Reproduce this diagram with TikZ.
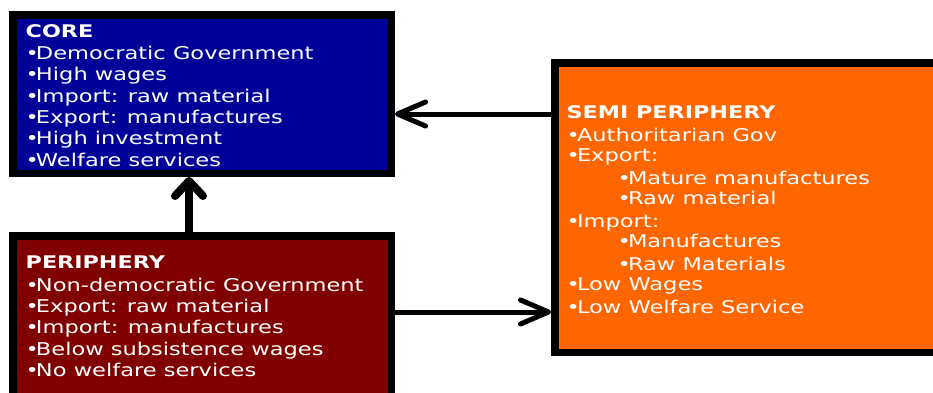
\documentclass[tikz,border=0pt]{standalone}
\usepackage{fontspec}
\setmainfont{DejaVu Sans}[FakeStretch=1.28]
\usetikzlibrary{arrows.meta}
\definecolor{coreblue}{RGB}{0,0,153}
\definecolor{perired}{RGB}{128,0,0}
\definecolor{semiorange}{RGB}{255,102,0}
\newcommand{\bul}{•\kern-3pt}
\tikzset{
  box/.style={draw=black, line width=7.5pt, inner sep=0pt},
  txt/.style={anchor=base west, inner sep=0pt, text=white,
    font=\fontsize{17.6}{21}\selectfont},
  ttl/.style={txt, font=\fontsize{17.4}{21}\selectfont\bfseries},
  harrow/.style={line width=5pt, -{Straight Barb[length=28pt,width=24pt,round]}},
  varrow/.style={line width=8pt, -{Straight Barb[length=15pt,width=28pt,round]}}
}
\begin{document}
\begin{tikzpicture}[x=1pt,y=-1pt]
\useasboundingbox (0,0) rectangle (933,392);
% boxes
\node[box, fill=coreblue, minimum width=378.5pt, minimum height=158.5pt] (core) at (202,94) {};
\node[box, fill=perired, minimum width=378.5pt, minimum height=164.25pt] (peri) at (202,317.9) {};
\node[box, fill=semiorange, minimum width=390.25pt, minimum height=289.5pt] (semi) at (749.9,207.5) {};
% CORE text
\node[ttl] (coret) at (25.5,37) {CORE};
\foreach \y/\t [count=\i] in {59/Democratic Government, 80/High wages, 102/Import: raw material, 123/Export: manufactures, 144/High investment, 166/Welfare services}
  \node[txt] (core\i) at (25.5,\y) {\bul\t};
% PERIPHERY text
\node[ttl] (perit) at (25.5,268) {PERIPHERY};
\foreach \y/\t [count=\i] in {291/Non-democratic Government, 312/Export: raw material, 333/Import: manufactures, 355/Below subsistence wages, 376/No welfare services}
  \node[txt] (peri\i) at (25.5,\y) {\bul\t};
% SEMI PERIPHERY text
\node[ttl] (semit) at (566.5,118) {SEMI PERIPHERY};
\foreach \y/\x/\t [count=\i] in {141/566.5/Authoritarian Gov, 161/566.5/Export:, 184/617.5/Mature manufactures, 204/617.5/Raw material, 227/566.5/Import:, 247/617.5/Manufactures, 270/617.5/Raw Materials, 290/566.5/Low Wages, 313/566.5/Low Welfare Service}
  \node[txt] (semi\i) at (\x,\y) {\bul\t};
% connectors
\coordinate (ya) at (0,114);
\coordinate (yb) at (0,312);
\coordinate (xc) at (189,0);
\draw[harrow] (semi.west |- ya) -- (core.east |- ya);
\draw[harrow] (peri.east |- yb) -- (semi.west |- yb);
\draw[varrow] (peri.north -| xc) -- (core.south -| xc);
\end{tikzpicture}
\end{document}
